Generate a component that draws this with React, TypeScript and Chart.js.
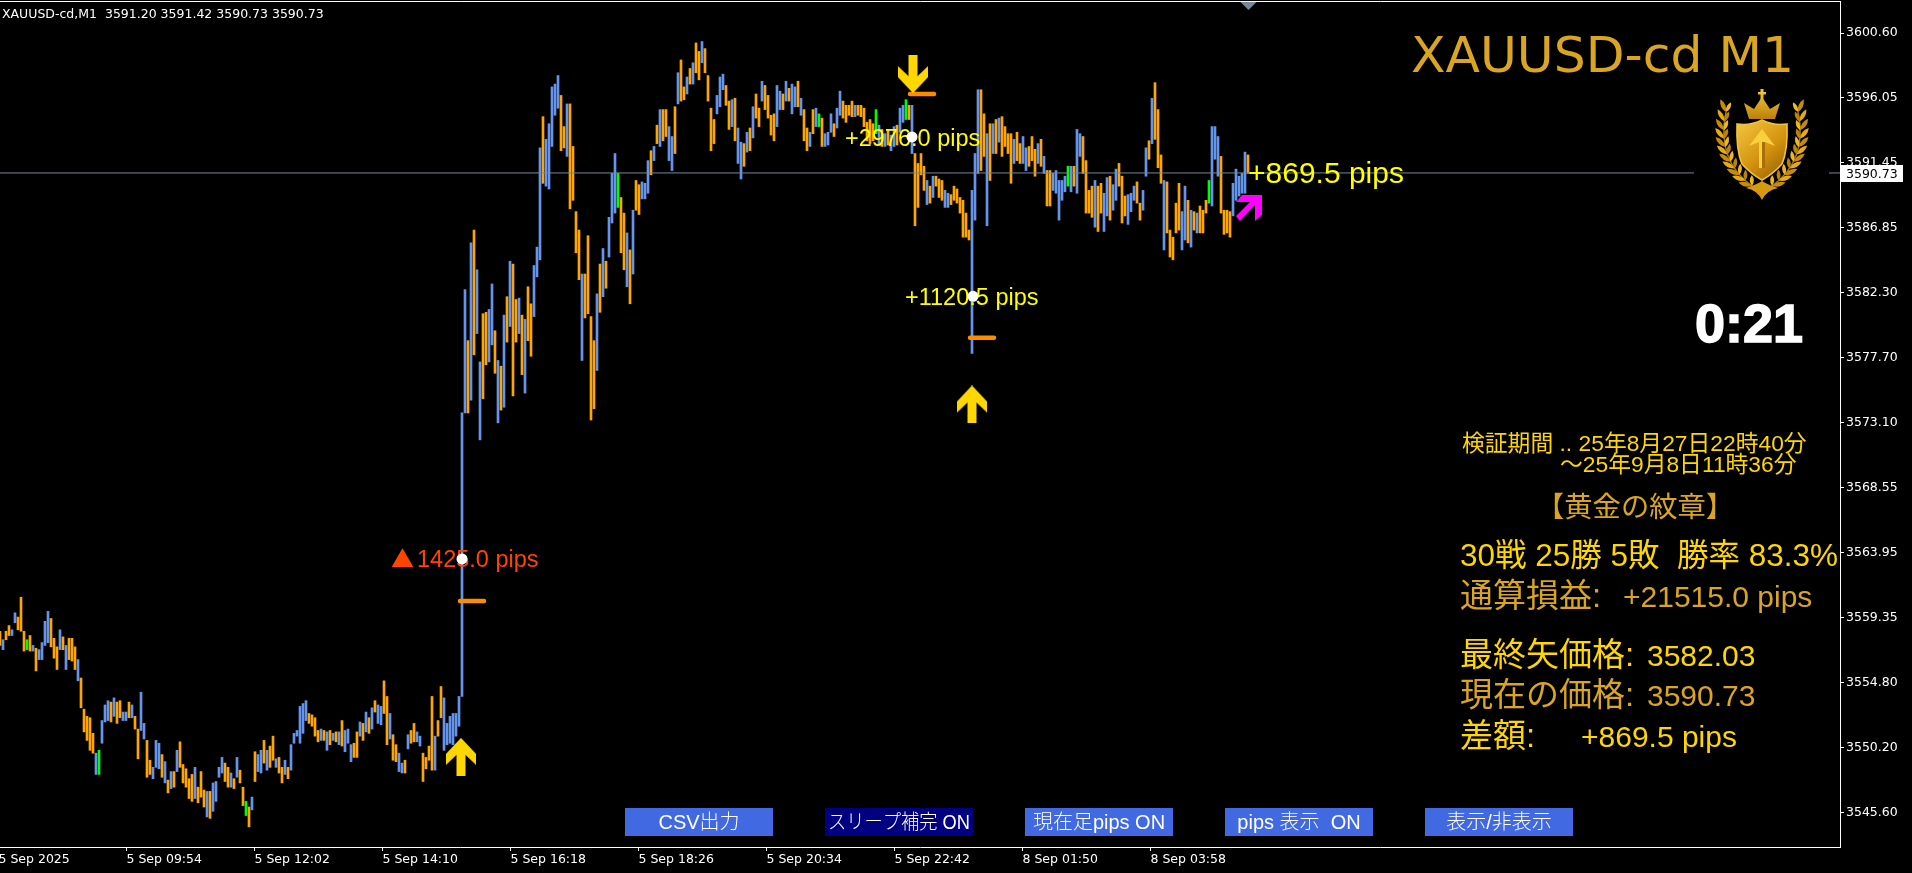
import React, { useEffect, useRef } from "react";
import { Chart, registerables } from "chart.js";

Chart.register(...registerables);

const highsA = [3558.4,3557.8,3558.4,3558.8,3558.5,3559.7,3559.4,3560.8,3558.4,3557.8,3558.1,3557.4,3557.2,3557.1,3557.6,3559.1,3559.8,3559.3,3557.9,3557.3,3558.5,3558.0,3557.4,3557.9,3557.9,3557.3,3556.4,3555.1,3552.9,3552.4,3552.3,3551.2,3549.8,3550.0,3552.1,3553.2,3553.5,3553.4,3553.7,3553.4,3553.5,3552.7,3552.7,3553.4,3553.2,3552.4,3551.5,3554.1,3551.9,3550.7,3549.3,3548.8,3550.7,3550.5,3549.7,3549.2,3547.9,3548.5,3548.5,3550.0,3550.6,3549.0,3548.7,3548.0,3548.3,3548.8,3547.4,3548.5,3547.2,3547.1,3547.1,3547.7,3547.8,3548.8,3549.5,3549.1,3548.8,3548.4,3548.0,3549.5,3548.6,3547.4,3546.4,3546.0,3546.7,3549.9,3549.7];
const lowsA = [3557.4,3557.1,3557.8,3558.1,3558.1,3559.0,3558.5,3558.4,3557.0,3557.1,3557.0,3557.0,3555.6,3556.4,3556.4,3557.4,3557.6,3557.3,3556.5,3555.7,3557.1,3557.1,3555.7,3556.4,3556.3,3555.7,3554.9,3553.0,3551.3,3550.7,3550.0,3549.8,3548.3,3548.3,3550.5,3552.0,3552.1,3552.0,3552.4,3551.9,3552.3,3552.1,3552.1,3552.3,3552.3,3551.5,3549.4,3551.4,3550.8,3548.1,3548.3,3548.0,3548.8,3548.7,3548.1,3547.7,3547.0,3547.3,3547.4,3548.5,3548.8,3547.7,3547.4,3546.6,3546.4,3546.6,3546.3,3546.7,3546.0,3545.3,3545.2,3545.7,3546.4,3548.1,3548.4,3547.8,3547.4,3547.4,3547.3,3548.1,3547.7,3546.1,3545.4,3544.6,3545.8,3547.8,3548.5];
const highsB = [3550.0,3550.7,3550.0,3550.3,3551.0,3549.4,3549.5,3548.8,3549.3,3548.8,3550.4,3551.2,3551.4,3553.1,3553.3,3553.5,3552.6,3552.5,3552.3,3551.4,3551.5,3551.4,3551.3,3551.4,3551.2,3551.3,3551.3,3552.1,3551.4,3551.5,3550.4,3550.5,3551.3,3552.0,3551.9,3552.7,3552.3,3553.0,3553.5,3553.2,3553.1,3554.9,3553.8,3552.6,3551.1,3550.4,3549.8,3549.1,3549.3,3551.1,3551.4,3551.9,3551.3,3551.0,3549.8,3549.5,3550.3,3553.8,3551.0,3552.1,3554.5,3553.7,3551.9,3552.4,3552.6,3552.6,3553.8,3573.8];
const lowsB = [3548.4,3549.1,3548.6,3548.8,3549.3,3548.8,3548.4,3547.7,3548.3,3548.0,3548.6,3550.5,3551.0,3550.5,3551.2,3552.1,3551.9,3551.7,3551.0,3550.6,3550.7,3550.7,3550.0,3550.4,3550.7,3550.6,3550.4,3550.3,3549.9,3550.5,3549.2,3549.5,3549.5,3551.0,3550.7,3551.3,3551.2,3551.5,3552.7,3551.9,3551.8,3552.6,3550.4,3550.8,3549.3,3549.2,3548.5,3548.4,3548.4,3550.1,3550.5,3550.6,3550.6,3550.3,3547.8,3548.7,3549.3,3548.6,3548.6,3551.0,3552.3,3550.0,3550.4,3550.5,3550.4,3551.0,3551.7,3553.8];
const highsC = [3582.5,3578.9,3585.8,3586.7,3583.9,3577.4,3580.8,3580.9,3581.1,3582.9,3579.6,3577.5,3577.1,3580.7,3582.0,3584.5,3584.3,3581.8,3581.9,3580.7,3580.4,3582.7,3581.5,3584.2,3585.5,3592.5,3594.7,3593.1,3594.2,3596.8,3597.0,3597.6,3596.2,3594.0,3595.6,3595.6,3592.6,3588.0,3586.7,3583.6,3583.6,3586.3,3580.6,3578.9,3582.2,3584.3,3585.4,3584.5,3587.6,3590.7,3592.1,3590.7,3589.0,3587.9,3586.5,3585.3,3588.1,3590.2,3589.9,3590.1,3590.0,3591.6,3592.3,3592.6,3594.1,3595.2,3595.2,3595.2,3594.0,3593.3,3595.4,3597.8,3598.7,3596.8,3597.5,3598.1,3598.5,3599.9,3599.3,3600.0,3599.5,3597.6];
const lowsC = [3573.8,3573.8,3574.7,3577.9,3579.4,3571.9,3574.8,3577.2,3577.4,3578.6,3576.6,3573.1,3574.0,3574.2,3578.8,3579.9,3575.0,3578.8,3579.4,3576.5,3575.2,3578.9,3577.8,3580.6,3583.4,3584.6,3590.0,3589.8,3589.6,3592.6,3594.8,3595.3,3592.3,3592.5,3591.9,3588.2,3588.8,3585.1,3583.2,3577.5,3580.5,3580.8,3573.3,3574.1,3576.8,3580.9,3582.0,3582.6,3584.8,3587.2,3587.9,3588.3,3585.1,3583.9,3582.7,3581.5,3583.6,3588.1,3587.8,3588.9,3588.9,3589.3,3590.6,3591.6,3592.8,3592.6,3593.0,3593.3,3591.6,3590.9,3592.1,3595.6,3595.8,3595.9,3596.3,3597.0,3597.0,3597.8,3597.3,3598.5,3597.8,3595.8];
const highsD = [3595.3,3594.5,3596.2,3597.5,3597.7,3596.9,3595.8,3595.9,3596.0,3593.9,3592.9,3592.8,3593.6,3593.9,3595.4,3596.3,3595.3,3597.2,3596.9,3596.2,3594.8,3594.9,3596.9,3596.5,3596.3,3597.2,3596.7,3597.0,3596.8,3597.2,3596.0,3595.2,3593.9,3593.6,3595.2,3595.3,3594.9,3594.6,3593.5,3593.6,3594.9,3594.2,3595.3,3596.5,3595.8,3595.5,3595.5,3595.8,3595.5,3595.5,3595.5,3595.3,3594.3,3594.5,3594.2,3595.2,3594.1,3593.8,3593.5,3593.8,3593.4,3594.0,3594.1,3595.3,3595.5,3595.9,3595.5,3595.5,3592.1,3591.4,3592.1,3591.2,3590.2,3589.8,3590.5,3590.5,3590.3,3590.2,3589.5,3589.3,3589.2,3589.8,3589.6,3589.0,3588.8,3587.9,3586.7,3589.5,3592.1,3596.6,3596.6,3594.9,3593.5,3594.2,3594.2,3594.5,3594.6];
const lowsD = [3592.3,3592.8,3594.9,3595.4,3596.6,3595.5,3593.8,3594.0,3593.0,3591.4,3590.3,3591.2,3592.2,3592.3,3593.2,3594.6,3594.0,3595.8,3595.2,3594.6,3593.4,3593.0,3594.0,3595.2,3595.2,3595.8,3595.8,3594.9,3595.4,3595.4,3594.8,3593.0,3592.3,3592.6,3593.5,3594.0,3594.0,3592.6,3592.6,3592.7,3593.6,3593.3,3593.9,3594.8,3594.6,3594.3,3594.8,3594.7,3594.7,3594.8,3594.7,3594.0,3593.0,3592.8,3593.0,3593.5,3592.7,3592.6,3592.6,3592.7,3592.3,3592.6,3592.7,3593.6,3594.3,3594.5,3594.5,3592.1,3587.0,3588.3,3590.6,3589.5,3588.5,3588.6,3589.0,3589.8,3589.0,3588.8,3588.3,3588.3,3588.5,3588.8,3588.6,3587.9,3586.2,3586.2,3586.0,3578.0,3587.4,3590.7,3590.9,3591.9,3587.0,3590.2,3592.1,3592.1,3592.9];
const highsE = [3594.7,3594.0,3593.5,3593.5,3593.1,3593.6,3592.8,3593.3,3592.5,3592.6,3593.3,3592.4,3592.8,3593.1,3591.9,3590.9,3590.9,3590.7,3590.9,3590.2,3590.2,3590.5,3591.2,3591.2,3591.2,3593.8,3593.5,3593.3,3591.6,3589.5,3589.8,3590.2,3589.8];
const lowsE = [3591.9,3592.6,3592.1,3590.0,3591.4,3591.6,3591.4,3591.4,3590.9,3591.2,3591.6,3590.5,3591.4,3591.2,3590.7,3588.4,3588.4,3589.5,3589.3,3587.4,3588.8,3589.4,3589.8,3589.4,3589.8,3589.3,3591.9,3590.7,3587.9,3587.9,3587.6,3586.9,3586.6];
const highsF = [3590.0,3589.3,3590.4,3590.5,3589.9,3591.0,3591.4,3590.5,3589.1,3589.2,3589.3,3589.8,3590.1,3588.6,3589.5,3592.5,3593.0,3596.0,3597.1,3595.2,3592.0,3590.2,3590.1,3586.7,3586.2,3588.6,3590.0,3588.0,3589.8,3588.8,3588.1,3588.0,3587.9,3588.4,3588.1,3588.8,3590.2,3594.0,3594.0,3593.3,3591.9,3588.1,3588.1,3588.0,3590.0,3591.0,3590.5,3590.7,3592.2,3592.0];
const lowsF = [3587.9,3586.6,3587.7,3587.4,3588.1,3588.8,3589.8,3587.2,3587.7,3587.1,3588.0,3588.8,3588.6,3587.4,3588.1,3590.5,3591.7,3592.8,3593.1,3591.1,3590.0,3585.3,3586.5,3584.8,3584.6,3586.5,3586.7,3585.3,3586.0,3585.8,3585.5,3586.7,3586.5,3586.5,3586.5,3587.9,3588.6,3588.4,3591.7,3590.5,3587.9,3586.4,3586.5,3586.2,3587.7,3588.8,3589.1,3589.3,3589.3,3590.7];

const kindsA = "o b o o b b o o o g o b o b b b b o o o b o b o o o b o o o o o b g b b b o b o o b b o b o o b b o o b b b o b o b o b o o o o o b o o o b o b b b b o o b o b o o g o b o b";
const kindsB = "b o b o o b o o b o b b b b b b o o o o b o b o b o b o b b b o o b o b o b o b b o o b o o b b o b o o b b o o o o b o o b b b b b b b";
const kindsC = "b o b o b b o o b b o b o b o b o o b o b o o b b b o b b b b b o o b o o o o b o o o o b o b o b b b g o o b o b o o b b b o b o b o o b b o b o o b o b o o b o o";
const kindsD = "o o b b b o o b o b b o b o b o o b o o o o b b o b o b b o b o o b o b g o b b b o b b o o o o b o o o o o o g b o b o b b o b b g o b o o o o b o b o o o b b o o o o o o o b b b o o b o b o b";
const kindsE = "o o o o b o o b b o o o b o b o o b b b b b g b o b b o o o o b o";
const kindsF = "o b b o b b o o o b b b o o b b o b o o o b o o o o o b b o b o b o o o g b b b o o o o b b b b b o";

const priceHighs = [...highsA, ...highsB, ...highsC, ...highsD, ...highsE, ...highsF];
const priceLows = [...lowsA, ...lowsB, ...lowsC, ...lowsD, ...lowsE, ...lowsF];
const barKinds = [...kindsA.split(" "), ...kindsB.split(" "), ...kindsC.split(" "), ...kindsD.split(" "), ...kindsE.split(" "), ...kindsF.split(" ")];

const yTickValues = [3600.6,3596.05,3591.45,3586.85,3582.3,3577.7,3573.1,3568.55,3563.95,3559.35,3554.8,3550.2,3545.6];
const xTickLabels = ["5 Sep 2025","5 Sep 09:54","5 Sep 12:02","5 Sep 14:10","5 Sep 16:18","5 Sep 18:26","5 Sep 20:34","5 Sep 22:42","8 Sep 01:50","8 Sep 03:58"];
const currentPrice = 3590.73;
const upArrows = [{ x: 462.5, y: 3549.54 }, { x: 973.5, y: 3574.4 }];
const downArrows = [{ x: 914.5, y: 3597.7 }];
const forecastArrows = [{ x: 1250.5, y: 3588.26 }];
const whiteDots = [{ x: 463.5, y: 3563.5 }, { x: 913.5, y: 3593.27 }, { x: 974.5, y: 3582.03 }];
const entryDashes = [
  { from: 461.5, to: 485.5, y: 3560.54 },
  { from: 911.5, to: 935.5, y: 3596.3 },
  { from: 971.5, to: 995.5, y: 3579.1 },
];

const BAR_COLORS: Record<string, string> = { b: "#6495ED", o: "#FFA500", g: "#00FF00" };
const JP = '"Liberation Sans","Noto Sans CJK JP"';
const GOLD = "#DAA520";
const YELLOW = "#FFD700";

function sprite(w: number, h: number, pts: number[][], color: string) {
  const c = document.createElement("canvas");
  c.width = w;
  c.height = h;
  const g = c.getContext("2d")!;
  g.fillStyle = color;
  g.beginPath();
  pts.forEach(([x, y], i) => (i ? g.lineTo(x, y) : g.moveTo(x, y)));
  g.closePath();
  g.fill();
  return c;
}

const UP_SHAPE = [[15,0],[30,16],[30,27],[19.5,17],[19.5,38],[10.5,38],[10.5,17],[0,27],[0,16]];
const DOWN_SHAPE = UP_SHAPE.map(([x, y]) => [x, 38 - y]);
const NE_SHAPE = [[6,0],[26,0],[26,20],[19,26],[19,10],[4,26],[0,21],[14,7],[0,7]];

function text(ctx: CanvasRenderingContext2D, s: string, x: number, y: number, font: string, color: string, maxWidth?: number) {
  ctx.font = font;
  ctx.fillStyle = color;
  if (maxWidth) ctx.fillText(s, x, y, maxWidth);
  else ctx.fillText(s, x, y);
}

function leaf(ctx: CanvasRenderingContext2D, x: number, y: number, angle: number, len: number, wid: number, color: string) {
  ctx.save();
  ctx.translate(x, y);
  ctx.rotate(angle);
  ctx.fillStyle = color;
  ctx.beginPath();
  ctx.moveTo(0, 0);
  ctx.quadraticCurveTo(len * 0.5, -wid, len, 0);
  ctx.quadraticCurveTo(len * 0.5, wid, 0, 0);
  ctx.fill();
  ctx.restore();
}

function drawEmblem(ctx: CanvasRenderingContext2D) {
  ctx.fillStyle = "#000";
  ctx.fillRect(1694, 86, 135, 118);
  const cx = 1762;
  for (const side of [-1, 1]) {
    ctx.strokeStyle = "#A87508";
    ctx.lineWidth = 1.5;
    ctx.beginPath();
    ctx.moveTo(cx + side * 36, 112);
    ctx.quadraticCurveTo(cx + side * 46, 160, cx + side * 10, 186);
    ctx.stroke();
    const steps = 11;
    for (let i = 0; i < steps; i++) {
      const t = i / (steps - 1);
      const a = 1 - t;
      const px = cx + side * (a * a * 36 + 2 * a * t * 46 + t * t * 10);
      const py = a * a * 112 + 2 * a * t * 160 + t * t * 186;
      const tilt = -1.15 + t * 0.9;
      const angOut = side > 0 ? tilt : Math.PI - tilt;
      leaf(ctx, px, py, angOut, 14, 4.5, i % 2 ? "#E6AC16" : "#C58B0C");
      const angIn = side > 0 ? tilt - 0.9 - t * 0.4 : Math.PI - tilt + 0.9 + t * 0.4;
      leaf(ctx, px, py, angIn, 11, 4, i % 2 ? "#B98209" : "#EDB821");
    }
  }
  ctx.fillStyle = "#D4990E";
  ctx.beginPath();
  ctx.moveTo(cx, 200);
  ctx.quadraticCurveTo(cx - 5, 190, cx - 16, 188);
  ctx.quadraticCurveTo(cx - 4, 184, cx, 181);
  ctx.quadraticCurveTo(cx + 4, 184, cx + 16, 188);
  ctx.quadraticCurveTo(cx + 5, 190, cx, 200);
  ctx.fill();

  const shield = new Path2D();
  shield.moveTo(cx, 120);
  shield.quadraticCurveTo(cx - 12, 126, cx - 25, 124);
  shield.quadraticCurveTo(cx - 26, 150, cx - 20, 164);
  shield.quadraticCurveTo(cx - 11, 174, cx, 180);
  shield.quadraticCurveTo(cx + 11, 174, cx + 20, 164);
  shield.quadraticCurveTo(cx + 26, 150, cx + 25, 124);
  shield.quadraticCurveTo(cx + 12, 126, cx, 120);
  shield.closePath();
  const sg = ctx.createLinearGradient(cx - 24, 122, cx + 24, 178);
  sg.addColorStop(0, "#F3C53E");
  sg.addColorStop(0.55, "#D4930F");
  sg.addColorStop(1, "#8F5D05");
  ctx.fillStyle = sg;
  ctx.fill(shield);
  ctx.strokeStyle = "#F0C040";
  ctx.lineWidth = 1.6;
  ctx.stroke(shield);
  ctx.fillStyle = "#F8CF3C";
  ctx.beginPath();
  ctx.moveTo(cx, 129);
  ctx.lineTo(cx + 13, 146);
  ctx.lineTo(cx + 3, 142);
  ctx.lineTo(cx + 3, 168);
  ctx.lineTo(cx - 3, 168);
  ctx.lineTo(cx - 3, 142);
  ctx.lineTo(cx - 13, 146);
  ctx.closePath();
  ctx.fill();
  ctx.fillStyle = "#A96F06";
  ctx.fillRect(cx, 142, 3, 26);

  const cg = ctx.createLinearGradient(0, 90, 0, 120);
  cg.addColorStop(0, "#F5C93A");
  cg.addColorStop(1, "#B97E08");
  ctx.fillStyle = cg;
  ctx.beginPath();
  ctx.moveTo(cx - 13, 119);
  ctx.lineTo(cx - 18, 103);
  ctx.lineTo(cx - 8, 109);
  ctx.lineTo(cx, 97);
  ctx.lineTo(cx + 8, 109);
  ctx.lineTo(cx + 18, 103);
  ctx.lineTo(cx + 13, 119);
  ctx.closePath();
  ctx.fill();
  ctx.fillRect(cx - 1.5, 89, 3, 12);
  ctx.fillRect(cx - 4, 92, 8, 2.5);
}

function drawLabels(ctx: CanvasRenderingContext2D) {
  ctx.textAlign = "left";
  ctx.textBaseline = "alphabetic";
  text(ctx, "+2976.0 pips", 845, 146, `23.5px ${JP}`, "#FFFF00");
  text(ctx, "+1120.5 pips", 905, 305, `23.5px ${JP}`, "#FFFF00");
  text(ctx, "▲", 391, 567, `23px "Noto Sans CJK JP"`, "#FF4500");
  text(ctx, "1425.0 pips", 417, 567, `23.5px ${JP}`, "#FF4500");
  text(ctx, "+869.5 pips", 1248, 183, `30px ${JP}`, "#FFFF00");
}

function drawOverlay(chart: any) {
  const ctx: CanvasRenderingContext2D = chart.ctx;
  const xs = chart.scales.x;
  const ys = chart.scales.y;
  ctx.save();
  ctx.textAlign = "left";
  ctx.textBaseline = "alphabetic";
  ctx.strokeStyle = "#fff";
  ctx.lineWidth = 1;
  ctx.beginPath();
  ctx.moveTo(0, 1.5);
  ctx.lineTo(xs.right + 0.5, 1.5);
  ctx.stroke();
  const last = xs.getPixelForValue(1250);
  ctx.fillStyle = "#778899";
  ctx.beginPath();
  ctx.moveTo(last - 8, 2);
  ctx.lineTo(last + 8, 2);
  ctx.lineTo(last, 10);
  ctx.closePath();
  ctx.fill();

  text(ctx, "XAUUSD-cd,M1  3591.20 3591.42 3590.73 3590.73", 2, 18, '12.5px "DejaVu Sans"', "#fff");
  text(ctx, "XAUUSD-cd M1", 1411, 72, '50.4px "DejaVu Sans"', GOLD);
  drawEmblem(ctx);
  ctx.strokeStyle = "#fff";
  ctx.lineWidth = 1.5;
  ctx.font = 'bold 54px "Liberation Sans"';
  ctx.strokeText("0:21", 1695, 342);
  text(ctx, "0:21", 1695, 342, 'bold 54px "Liberation Sans"', "#fff");

  text(ctx, "検証期間 .. 25年8月27日22時40分", 1462, 451, `22.8px ${JP}`, YELLOW, 346);
  text(ctx, "～25年9月8日11時36分", 1560, 472, `22.8px ${JP}`, YELLOW, 237);
  text(ctx, "【黄金の紋章】", 1536, 517, `28.3px ${JP}`, GOLD);
  text(ctx, "30戦 25勝 5敗  勝率 83.3%", 1460, 566, `31.5px ${JP}`, YELLOW, 378);
  text(ctx, "通算損益:", 1460, 607, `33px ${JP}`, GOLD);
  text(ctx, "+21515.0 pips", 1623, 607, `30px ${JP}`, GOLD);
  text(ctx, "最終矢価格:", 1460, 666, `33px ${JP}`, YELLOW);
  text(ctx, "3582.03", 1647, 666, `30px ${JP}`, YELLOW);
  text(ctx, "現在の価格:", 1460, 706, `33px ${JP}`, GOLD);
  text(ctx, "3590.73", 1647, 706, `30px ${JP}`, GOLD);
  text(ctx, "差額:", 1460, 747, `33px ${JP}`, YELLOW);
  text(ctx, "+869.5 pips", 1581, 747, `30px ${JP}`, YELLOW);

  const buttons = [
    { label: "CSV出力", left: 625, fill: "#4169E1" },
    { label: "スリープ補完 ON", left: 825, fill: "#000080" },
    { label: "現在足pips ON", left: 1025, fill: "#4169E1" },
    { label: "pips 表示  ON", left: 1225, fill: "#4169E1" },
    { label: "表示/非表示", left: 1425, fill: "#4169E1" },
  ];
  buttons.forEach((b) => {
    ctx.fillStyle = b.fill;
    ctx.fillRect(b.left, 808, 148, 28);
    ctx.textAlign = "center";
    text(ctx, b.label, b.left + 74, 829, `300 20px ${JP}`, "#fff", 142);
  });
  ctx.textAlign = "left";

  const py = Math.round(ys.getPixelForValue(currentPrice));
  ctx.fillStyle = "#fff";
  ctx.fillRect(1841, py - 8, 62, 17);
  text(ctx, currentPrice.toFixed(2), 1846, py + 5, '12.5px "DejaVu Sans"', "#000");
  ctx.restore();
}

const overlayPlugin = {
  id: "mt4Overlay",
  afterDatasetDraw(chart: any, args: any) {
    if (args.index === 1) {
      chart.ctx.save();
      drawLabels(chart.ctx);
      chart.ctx.restore();
    }
  },
  afterDraw(chart: any) {
    drawOverlay(chart);
  },
};

const X_MIN = 1.5;
const X_MAX = 1841.5;
const Y_MAX = 3602.86;
const Y_MIN = 3543.18;
const MINUTES_PER_COLUMN = 3;
const MINUTES_PER_X_TICK = 128;

export default function App() {
  const ref = useRef<HTMLCanvasElement>(null);
  useEffect(() => {
    document.body.style.margin = "0";
    document.body.style.background = "#000";
    document.body.style.overflow = "hidden";
    const arrowPoint = (data: any[], img: HTMLCanvasElement, order: number) => ({
      type: "scatter",
      data,
      pointStyle: img,
      pointRadius: 10,
      showLine: false,
      order,
      clip: false,
    });
    const chart = new Chart(ref.current!, {
      type: "bar",
      data: {
        datasets: [
          {
            type: "bar",
            data: priceHighs.map((h, i) => ({ x: i * MINUTES_PER_COLUMN + 1.5, y: [priceLows[i], h] })),
            backgroundColor: priceHighs.map((_, i) => BAR_COLORS[barKinds[i]] || BAR_COLORS.b),
            barThickness: 2,
            borderWidth: 0,
            order: 5,
          },
          {
            type: "line",
            data: [{ x: X_MIN, y: currentPrice }, { x: X_MAX, y: currentPrice }],
            borderColor: "#778899",
            borderWidth: 1,
            pointRadius: 0,
            order: 4,
          },
          ...entryDashes.map((d) => ({
            type: "line",
            data: [{ x: d.from, y: d.y }, { x: d.to, y: d.y }],
            borderColor: "#FF8C00",
            borderWidth: 4.5,
            borderCapStyle: "round",
            pointRadius: 0,
            order: 3,
          })),
          {
            type: "scatter",
            data: whiteDots,
            backgroundColor: "#fff",
            borderWidth: 0,
            pointRadius: 5.5,
            order: 2,
          },
          arrowPoint(upArrows, sprite(30, 38, UP_SHAPE, YELLOW), 1),
          arrowPoint(downArrows, sprite(30, 38, DOWN_SHAPE, YELLOW), 1),
          arrowPoint(forecastArrows, sprite(26, 26, NE_SHAPE, "#FF00FF"), 1),
        ] as any,
      },
      options: {
        responsive: false,
        animation: false,
        events: [],
        layout: { autoPadding: false, padding: { top: 1, left: 0, right: 0, bottom: 0 } },
        plugins: { legend: { display: false }, tooltip: { enabled: false }, title: { display: false } },
        scales: {
          x: {
            type: "linear",
            offset: false,
            min: X_MIN,
            max: X_MAX,
            afterBuildTicks: (s: any) => {
              s.ticks = xTickLabels.map((_, i) => ({ value: i * MINUTES_PER_X_TICK }));
            },
            afterFit: (s: any) => {
              s.height = 26;
              s.paddingLeft = 0;
              s.paddingRight = 0;
            },
            grid: { drawOnChartArea: false, drawTicks: true, tickLength: 4, color: "#fff", offset: false },
            border: { color: "#fff", width: 1 },
            ticks: {
              color: "#fff",
              autoSkip: false,
              maxRotation: 0,
              minRotation: 0,
              align: "start",
              padding: 1,
              font: { family: "DejaVu Sans", size: 12.5 },
              callback: (v: any) => xTickLabels[Math.round(v / MINUTES_PER_X_TICK)],
            },
          },
          y: {
            position: "right",
            min: Y_MIN,
            max: Y_MAX,
            afterBuildTicks: (s: any) => {
              s.ticks = yTickValues.map((value) => ({ value }));
            },
            afterFit: (s: any) => {
              s.width = 72;
              s.paddingTop = 0;
              s.paddingBottom = 0;
            },
            grid: { drawOnChartArea: false, drawTicks: true, tickLength: 4, color: "#fff" },
            border: { color: "#fff", width: 1 },
            ticks: {
              color: "#fff",
              autoSkip: false,
              padding: 2,
              font: { family: "DejaVu Sans", size: 12.5 },
              callback: (v: any) => Number(v).toFixed(2),
            },
          },
        },
      } as any,
      plugins: [overlayPlugin as any],
    });
    return () => chart.destroy();
  }, []);
  return (
    <div style={{ width: 1912, height: 873, background: "#000" }}>
      <canvas ref={ref} width={1912} height={873} style={{ display: "block" }} />
    </div>
  );
}
